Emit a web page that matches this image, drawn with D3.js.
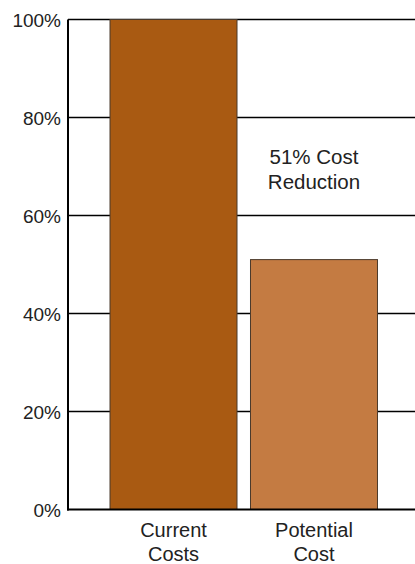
<!DOCTYPE html>
<html>
<head>
<meta charset="utf-8">
<script src="https://cdn.jsdelivr.net/npm/d3@7"></script>
<style>
  body { margin: 0; background: #fff; }
  text { font-family: "Liberation Sans", Arial, Helvetica, sans-serif; }
</style>
</head>
<body>
<svg></svg>
<script>
var categories = [["Current", "Costs"], ["Potential", "Cost"]];
var values = [100, 51];
var barColors = ["#a95a12", "#c47b42"];
var yTicks = [0, 20, 40, 60, 80, 100];
var note = ["51% Cost", "Reduction"];

var width = 415, height = 564;
var plotLeft = 68, plotTop = 19.5, plotBottom = 509.5;

var svg = d3.select("svg").attr("width", width).attr("height", height);

var keys = categories.map(function(d) { return d.join(" "); });

var x = d3.scaleBand()
    .domain(keys)
    .range([72.5, width])
    .paddingInner(0.096)
    .paddingOuter(0.267);

var y = d3.scaleLinear()
    .domain([0, 100])
    .range([plotBottom, plotTop]);

// グリッド線
svg.append("g")
    .selectAll("line")
    .data(yTicks.filter(function(d) { return d > 0; }))
    .enter()
    .append("line")
    .attr("x1", plotLeft)
    .attr("x2", width)
    .attr("y1", function(d) { return y(d); })
    .attr("y2", function(d) { return y(d); })
    .attr("stroke", "#000")
    .attr("stroke-width", 1.5);

// バー
svg.append("g")
    .selectAll("rect")
    .data(values)
    .enter()
    .append("rect")
    .attr("x", function(d, i) { return x(keys[i]); })
    .attr("y", function(d) { return y(d); })
    .attr("width", x.bandwidth())
    .attr("height", function(d) { return plotBottom - y(d); })
    .attr("fill", function(d, i) { return barColors[i]; })
    .attr("stroke", "#4a3a2c")
    .attr("stroke-width", 1);

// 軸
var yAxis = svg.append("g")
    .attr("transform", "translate(" + plotLeft + ",0)")
    .call(d3.axisLeft(y).tickValues(yTicks).tickSize(0).tickPadding(7)
        .tickFormat(function(d) { return d + "%"; }));
yAxis.select(".domain").remove();
yAxis.selectAll("text")
    .attr("font-size", 19)
    .attr("font-family", "'Liberation Sans', Arial, sans-serif")
    .attr("fill", "#222")
    .attr("dy", "0.35em");

svg.append("line")
    .attr("x1", plotLeft).attr("x2", plotLeft)
    .attr("y1", plotTop).attr("y2", plotBottom + 1)
    .attr("stroke", "#000").attr("stroke-width", 2);

svg.append("line")
    .attr("x1", plotLeft - 1).attr("x2", width)
    .attr("y1", plotBottom).attr("y2", plotBottom)
    .attr("stroke", "#000").attr("stroke-width", 2);

// カテゴリラベル
var labels = svg.append("g")
    .selectAll("text")
    .data(categories)
    .enter()
    .append("text")
    .attr("text-anchor", "middle")
    .attr("font-size", 20)
    .attr("fill", "#222")
    .attr("x", function(d, i) { return x(keys[i]) + x.bandwidth() / 2; })
    .attr("y", 537);
labels.selectAll("tspan")
    .data(function(d) { return d; })
    .enter()
    .append("tspan")
    .attr("x", function() { return this.parentNode.getAttribute("x"); })
    .attr("dy", function(d, i) { return i ? 24 : 0; })
    .text(function(d) { return d; });

// 注記
var noteText = svg.append("text")
    .attr("text-anchor", "middle")
    .attr("font-size", 20.5)
    .attr("fill", "#222")
    .attr("x", x(keys[1]) + x.bandwidth() / 2)
    .attr("y", 164);
noteText.selectAll("tspan")
    .data(note)
    .enter()
    .append("tspan")
    .attr("x", x(keys[1]) + x.bandwidth() / 2)
    .attr("dy", function(d, i) { return i ? 25 : 0; })
    .text(function(d) { return d; });
</script>
</body>
</html>
